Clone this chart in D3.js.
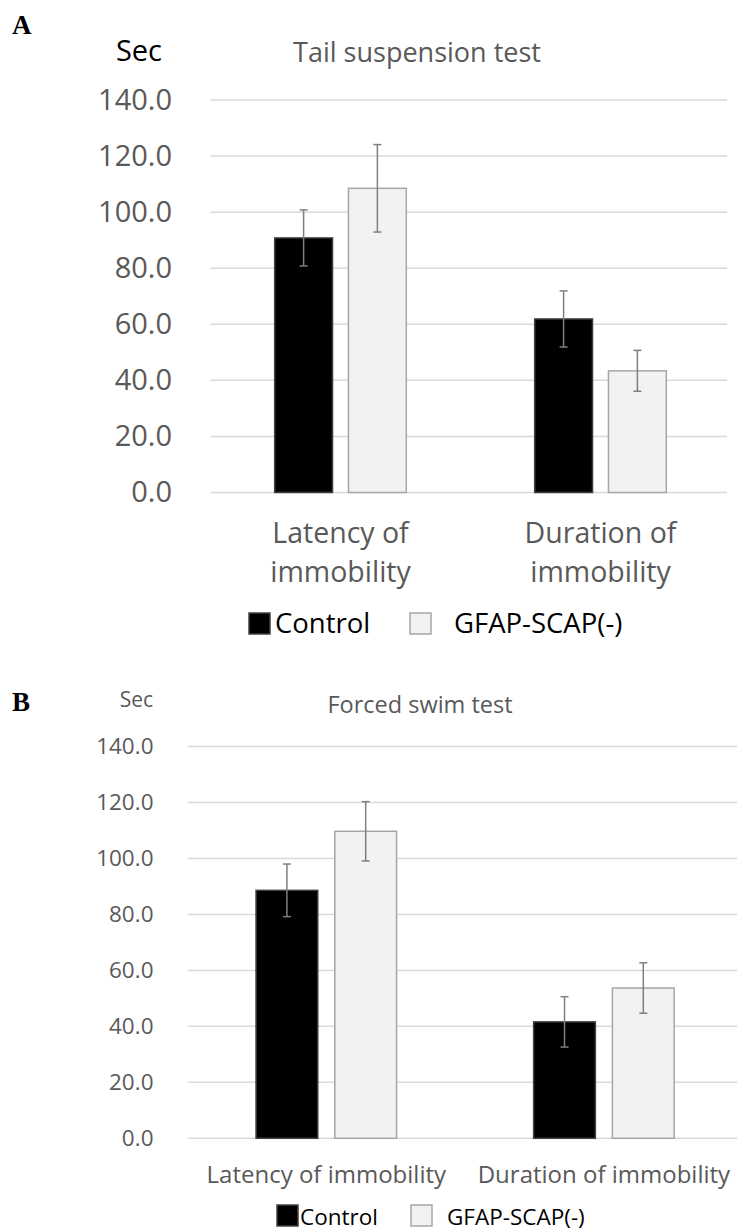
<!DOCTYPE html>
<html>
<head>
<meta charset="utf-8" />
<title>Tail suspension test / Forced swim test</title>
<script src="https://cdn.jsdelivr.net/npm/d3@7"></script>
<style>
    body { margin: 0; background: #fff; }
    svg text { font-family: "Open Sans", "Liberation Sans", sans-serif; }
</style>
</head>
<body>
<div id="the-chart"></div>
<script>
// data
var categories = ["Latency of immobility", "Duration of immobility"];
var series = ["Control", "GFAP-SCAP(-)"];
var yTicks = [0, 20, 40, 60, 80, 100, 120, 140];

var tailControl = [90.8, 61.9], tailControlErr = [10.0, 10.0];
var tailGfap = [108.5, 43.4], tailGfapErr = [15.6, 7.3];

var swimControl = [88.6, 41.6], swimControlErr = [9.4, 9.0];
var swimGfap = [109.7, 53.7], swimGfapErr = [10.6, 9.0];

var svg = d3.select("#the-chart").append("svg")
    .attr("width", 737)
    .attr("height", 1232);

var colors = { Control: "#000000", "GFAP-SCAP(-)": "#f2f2f2" },
    strokes = { Control: "#404040", "GFAP-SCAP(-)": "#a6a6a6" };

function wrap(text, width) {
    text.each(function () {
        var t = d3.select(this), words = t.text().split(/\s+/),
            x = t.attr("x"), lh = +t.attr("data-lh"),
            line = [], tspan = t.text(null).append("tspan").attr("x", x);
        words.forEach(function (w) {
            line.push(w);
            tspan.text(line.join(" "));
            if (tspan.node().getComputedTextLength() > width && line.length > 1) {
                line.pop();
                tspan.text(line.join(" "));
                line = [w];
                tspan = t.append("tspan").attr("x", x).attr("dy", lh).text(w);
            }
        });
    });
}

function drawPanel(p) {
    var g = svg.append("g");

    var x0 = d3.scaleBand().domain(categories).range(p.xRange).paddingInner(0).paddingOuter(0);
    var x1 = d3.scaleBand().domain(series).range([0, x0.bandwidth()]).paddingInner(0.216).paddingOuter(0.87);
    var y = d3.scaleLinear().domain([0, 140]).range(p.yRange);

    // panel letter
    g.append("text").attr("x", 12).attr("y", p.letterY)
        .style("font-family", "'Liberation Serif', 'Times New Roman', serif")
        .style("font-weight", "bold").style("font-size", "27px")
        .text(p.letter);

    // grid
    g.append("g").selectAll("line").data(yTicks).enter().append("line")
        .attr("x1", p.gridX[0]).attr("x2", p.gridX[1])
        .attr("y1", function (d) { return y(d); }).attr("y2", function (d) { return y(d); })
        .attr("stroke", "#d9d9d9").attr("stroke-width", 1.5);

    // y axis labels
    var yAxis = g.append("g").attr("transform", "translate(" + p.tickX + ",0)")
        .call(d3.axisLeft(y).tickValues(yTicks).tickFormat(d3.format(".1f")).tickSize(0).tickPadding(0));
    yAxis.select(".domain").remove();
    yAxis.selectAll("text")
        .style("font-family", "'Open Sans', sans-serif")
        .style("font-size", p.tickSize + "px").attr("fill", "#595959");

    g.append("text").attr("x", p.secX).attr("y", p.secY).attr("text-anchor", "end")
        .style("font-size", p.secSize + "px").attr("fill", p.secColor).text("Sec");

    g.append("text").attr("x", p.titleX).attr("y", p.titleY).attr("text-anchor", "middle")
        .style("font-size", p.titleSize + "px").attr("fill", "#595959").text(p.title);

    // bars
    var rows = [];
    categories.forEach(function (c, i) {
        rows.push({ cat: c, s: series[0], v: p.control[i], e: p.controlErr[i] });
        rows.push({ cat: c, s: series[1], v: p.gfap[i], e: p.gfapErr[i] });
    });

    g.append("g").selectAll("rect").data(rows).enter().append("rect")
        .attr("x", function (d) { return x0(d.cat) + x1(d.s); })
        .attr("y", function (d) { return y(d.v); })
        .attr("width", x1.bandwidth())
        .attr("height", function (d) { return y(0) - y(d.v); })
        .attr("fill", function (d) { return colors[d.s]; })
        .attr("stroke", function (d) { return strokes[d.s]; })
        .attr("stroke-width", 1.5);

    var eb = g.append("g").attr("stroke", "#7f7f7f").attr("stroke-width", 1.5)
        .selectAll("g").data(rows).enter().append("g");
    var cx = function (d) { return x0(d.cat) + x1(d.s) + x1.bandwidth() / 2; };
    eb.append("line").attr("x1", cx).attr("x2", cx)
        .attr("y1", function (d) { return y(d.v + d.e); })
        .attr("y2", function (d) { return y(d.v - d.e); });
    eb.append("line").attr("x1", function (d) { return cx(d) - 4; }).attr("x2", function (d) { return cx(d) + 4; })
        .attr("y1", function (d) { return y(d.v + d.e); }).attr("y2", function (d) { return y(d.v + d.e); });
    eb.append("line").attr("x1", function (d) { return cx(d) - 4; }).attr("x2", function (d) { return cx(d) + 4; })
        .attr("y1", function (d) { return y(d.v - d.e); }).attr("y2", function (d) { return y(d.v - d.e); });

    // category labels
    g.append("g").selectAll("text").data(categories).enter().append("text")
        .attr("x", function (d) { return x0(d) + x0.bandwidth() / 2; })
        .attr("y", p.catY).attr("data-lh", p.catLH)
        .attr("text-anchor", "middle")
        .style("font-size", p.catSize + "px").attr("fill", "#595959")
        .text(function (d) { return d; })
        .call(wrap, x0.bandwidth() - 10);

    // legend
    var lg = g.append("g").selectAll("g").data(series).enter().append("g")
        .attr("transform", function (d, i) { return "translate(" + p.legendX[i] + "," + p.legendY + ")"; });
    lg.append("rect").attr("x", 0).attr("y", -p.legendBox + 1)
        .attr("width", p.legendBox).attr("height", p.legendBox)
        .attr("fill", function (d) { return colors[d]; })
        .attr("stroke", function (d) { return strokes[d]; }).attr("stroke-width", 1.5);
    lg.append("text").attr("x", function (d, i) { return p.legendGap[i]; }).attr("y", 0)
        .style("font-size", p.legendSize + "px").attr("fill", "#000").text(function (d) { return d; });
}

drawPanel({
    letter: "A", letterY: 34, title: "Tail suspension test",
    control: tailControl, controlErr: tailControlErr, gfap: tailGfap, gfapErr: tailGfapErr,
    xRange: [210.5, 730.5], yRange: [492.5, 100], gridX: [210.5, 727],
    tickX: 172, tickSize: 29,
    secX: 162, secY: 61, secSize: 29, secColor: "#000",
    titleX: 417, titleY: 62, titleSize: 27,
    catY: 543, catLH: 39, catSize: 28.5,
    legendX: [249, 410], legendGap: [26, 44], legendY: 633, legendBox: 21, legendSize: 27.5
});

drawPanel({
    letter: "B", letterY: 711, title: "Forced swim test",
    control: swimControl, controlErr: swimControlErr, gfap: swimGfap, gfapErr: swimGfapErr,
    xRange: [187.5, 742.7], yRange: [1138.3, 746.5], gridX: [187.5, 737],
    tickX: 153.5, tickSize: 22.5,
    secX: 153, secY: 707, secSize: 21, secColor: "#595959",
    titleX: 420, titleY: 713, titleSize: 23.5,
    catY: 1183, catLH: 30, catSize: 24,
    legendX: [277, 411], legendGap: [23, 36], legendY: 1225, legendBox: 21, legendSize: 22.5
});
</script>
</body>
</html>
